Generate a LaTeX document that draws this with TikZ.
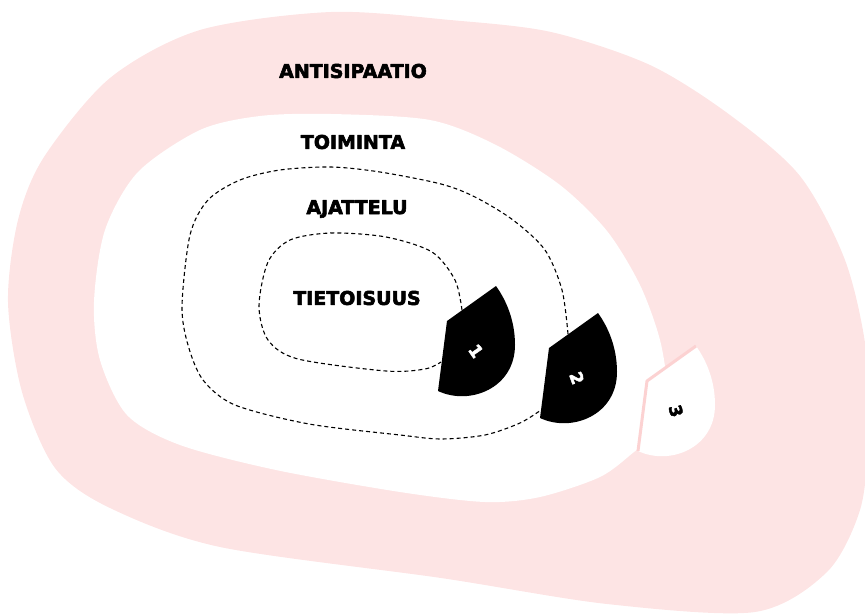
\documentclass[tikz,border=0pt]{standalone}
\usepackage{fontspec}
\setmainfont{DejaVu Sans}
\newfontfamily\heavyfont[FakeBold=3]{DejaVu Sans Bold}
\usetikzlibrary{positioning}

\begin{document}
\begin{tikzpicture}[x=1pt, y=-1pt, line join=round]
  % colours
  \definecolor{ringpink}{RGB}{253,228,228}
  \definecolor{edgepink}{RGB}{252,210,210}
  \tikzset{
    zonelabel/.style={font=\heavyfont\fontsize{19}{20}\selectfont},
    numlabel/.style={font=\heavyfont\fontsize{17}{18}\selectfont},
    dashline/.style={line width=1.1pt, dash pattern=on 4pt off 3pt},
  }
  \useasboundingbox (0,0) rectangle (865,615);

  % outer ring
  \fill[ringpink] plot[smooth cycle] coordinates {
    (331,12) (450,20) (551,32) (650,65) (730,115) (800,176) (845,260)
    (866,350) (868,440) (860,510) (827,572) (755,612) (607,604) (441,578)
    (220,547) (110,508) (55,468) (22,392) (8,302) (18,220) (44,157)
    (110,78) (200,30)};

  % white area
  \fill[white] plot[smooth cycle] coordinates {
    (331,114) (430,120) (496,145) (560,185) (607,231) (640,285)
    (660,340) (667,390) (660,430) (634,452) (600,477) (540,497)
    (485,502) (400,492) (276,470) (180,445) (127,415) (100,360)
    (94,302) (105,230) (138,172) (200,130) (260,116)};

  % dashed borders
  \draw[dashline] plot[smooth] coordinates {
    (462,310) (455,280) (432,252) (386,237) (331,233) (290,240)
    (268,262) (259,306) (268,340) (298,359) (386,371) (425,369) (441,362)};
  \draw[dashline] plot[smooth] coordinates {
    (568,334) (562,290) (545,250) (513,220) (475,197) (441,184)
    (380,172) (331,167) (280,170) (240,180) (208,200) (190,235)
    (182,306) (188,345) (203,380) (235,405) (309,424) (400,435)
    (441,439) (485,435) (520,423) (541,410)};

  % zone labels
  \node[zonelabel] (antisipaatio) at (353,71) {ANTISIPAATIO};
  \node[zonelabel] (toiminta) at (353,142) {TOIMINTA};
  \node[zonelabel] (ajattelu) at (357,209) {AJATTELU};
  \node[zonelabel] (tietoisuus) at (357,298) {TIETOISUUS};

  % drops 1 and 2
  \fill[black] (496,286) -- (447,321) -- (438,391)
    .. controls (470,406) and (515,388) .. (515,345)
    .. controls (515,320) and (506,300) .. (496,286) -- cycle;
  \fill[black, shift={(102,27)}] (496,286) -- (447,321) -- (438,391)
    .. controls (470,406) and (515,388) .. (515,345)
    .. controls (515,320) and (506,300) .. (496,286) -- cycle;

  % drop 3
  \fill[white, shift={(200,60)}] (496,286) -- (447,321) -- (438,391)
    .. controls (470,406) and (515,388) .. (515,345)
    .. controls (515,320) and (506,300) .. (496,286) -- cycle;
  \draw[edgepink, line width=3pt, shift={(200,60)}]
    (496,286) -- (447,321) -- (438,391);

  % numbers
  \node[numlabel, white, rotate=-55] (n1) at (476,351) {1};
  \node[numlabel, white, rotate=-70] (n2) at (577,378) {2};
  \node[numlabel, black, rotate=-75] (n3) at (676,411) {3};
\end{tikzpicture}
\end{document}
